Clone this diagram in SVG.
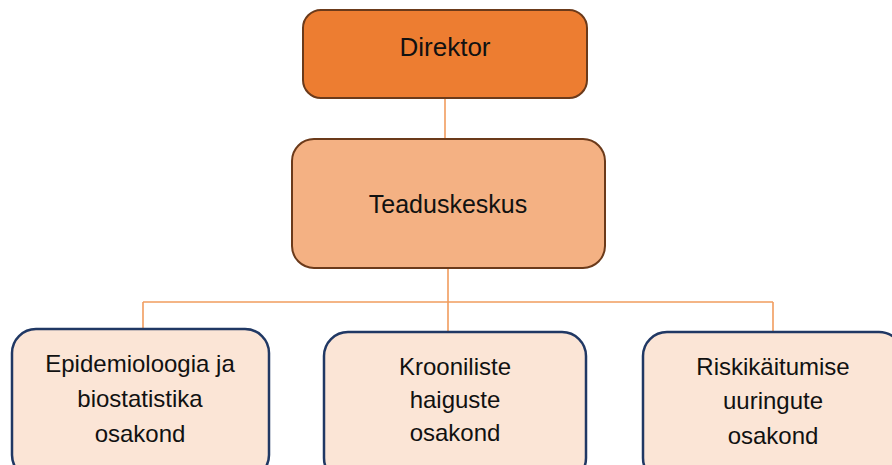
<svg xmlns="http://www.w3.org/2000/svg" width="892" height="465" viewBox="0 0 892 465">
<style>
.t{font-family:"Liberation Sans",Arial,sans-serif;fill:#111;text-anchor:middle}
.big{font-size:25px}
.small{font-size:24px}
.conn{stroke:#f19c5e;stroke-width:1.6;fill:none}
.dept{fill:#fbe5d6;stroke:#203864;stroke-width:2.5}
</style>
<rect width="892" height="465" fill="#ffffff"/>
<g id="connectors">
<line class="conn" x1="445" y1="98" x2="445" y2="139"/>
<line class="conn" x1="448" y1="268" x2="448" y2="332"/>
<line class="conn" x1="143" y1="302" x2="773" y2="302"/>
<line class="conn" x1="143" y1="302" x2="143" y2="329"/>
<line class="conn" x1="773" y1="302" x2="773" y2="332"/>
</g>
<g id="direktor">
<rect x="303" y="10" width="284" height="88" rx="18" fill="#ed7d31" stroke="#6b3a1a" stroke-width="2"/>
<text class="t" style="font-size:26px" x="445" y="56">Direktor</text>
</g>
<g id="teaduskeskus">
<rect x="292" y="139" width="313" height="129" rx="22" fill="#f4b183" stroke="#6b3a1a" stroke-width="2"/>
<text class="t big" x="448" y="213">Teaduskeskus</text>
</g>
<g id="epidemioloogia">
<rect class="dept" x="12" y="329" width="257" height="150" rx="24"/>
<text class="t small" x="140" y="372">Epidemioloogia ja</text>
<text class="t small" x="140" y="407">biostatistika</text>
<text class="t small" x="140" y="442">osakond</text>
</g>
<g id="kroonilised">
<rect class="dept" x="324" y="332" width="262" height="150" rx="24"/>
<text class="t small" x="455" y="375">Krooniliste</text>
<text class="t small" x="455" y="408">haiguste</text>
<text class="t small" x="455" y="441">osakond</text>
</g>
<g id="riskikaitumine">
<rect class="dept" x="643" y="332" width="260" height="150" rx="24"/>
<text class="t small" x="773" y="375">Riskikäitumise</text>
<text class="t small" x="773" y="409">uuringute</text>
<text class="t small" x="773" y="444">osakond</text>
</g>
</svg>
